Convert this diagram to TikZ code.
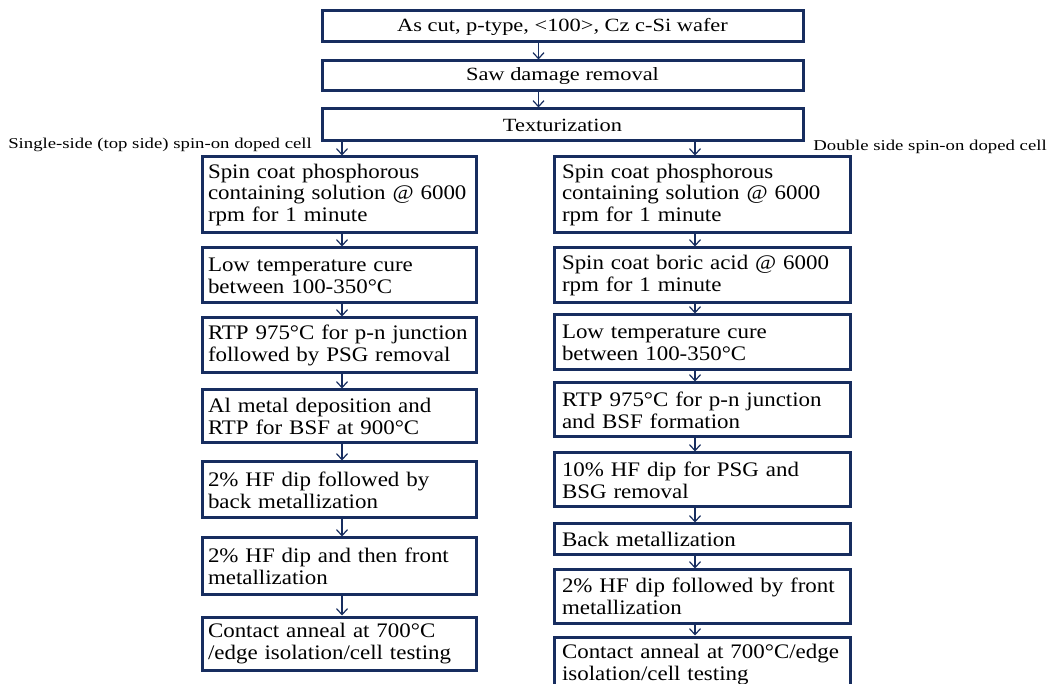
\documentclass[tikz,border=0pt]{standalone}
\usepackage{fontspec}
\setmainfont{Liberation Serif}
\newfontfamily\stepfamily[FakeStretch=1.11]{Liberation Serif}
\newfontfamily\topfamily[FakeStretch=1.2]{Liberation Serif}
\newfontfamily\lblfamily[FakeStretch=1.25]{Liberation Serif}
\usetikzlibrary{arrows.meta, positioning}
\definecolor{boxblue}{RGB}{23, 45, 95}
\newdimen\px \px=0.75pt

\begin{document}
\hyphenpenalty=10000
\exhyphenpenalty=10000
\begin{tikzpicture}[x=0.75pt, y=-0.75pt,
  topbox/.style={draw=boxblue, line width=3\px, minimum width=481\px, inner sep=0pt,
                 font=\topfamily\fontsize{14pt}{16pt}\selectfont},
  lbox/.style={draw=boxblue, line width=3\px, inner xsep=6\px, inner ysep=0pt,
               text width=262\px, align=left,
               font=\stepfamily\fontsize{15.5pt}{16.4pt}\selectfont},
  rbox/.style={lbox, inner xsep=8\px, text width=280\px},
  lbl/.style={inner sep=0pt, font=\lblfamily\fontsize{11.25pt}{13pt}\selectfont},
  arr/.style={draw=boxblue, line width=0.9pt, -{Straight Barb[length=4.5pt, width=8.25pt]}},
]
\useasboundingbox (0,0) rectangle (1051,684);

% Common steps
\node[topbox, minimum height=31\px] (wafer) at (562.5, 26.5) {As cut, p-type, <100>, Cz c-Si wafer};
\node[topbox, minimum height=30\px] (saw) at (562.5, 76) {Saw damage removal};
\node[topbox, minimum height=32\px] (tex) at (562.5, 125) {Texturization};

\draw[arr] ([xshift=-18pt]wafer.south) -- ([xshift=-18pt]saw.north);
\draw[arr] ([xshift=-18pt]saw.south) -- ([xshift=-18pt]tex.north);

% Branch labels
\node[lbl, anchor=west] (single) at (8, 145) {Single-side (top side) spin-on doped cell};
\node[lbl, anchor=east] (double) at (1047, 147) {Double side spin-on doped cell};

% Single-side column
\node[lbox, minimum height=76\px] (l1) at (339, 195) {Spin coat phosphorous\\containing solution @ 6000\\rpm for 1 minute};
\node[lbox, minimum height=55\px] (l2) at (339, 275.5) {Low temperature cure\\between 100-350°C};
\node[lbox, minimum height=55\px] (l3) at (339, 345.5) {RTP 975°C for p-n junction\\followed by PSG removal};
\node[lbox, minimum height=53\px] (l4) at (339, 416.5) {Al metal deposition and\\RTP for BSF at 900°C};
\node[lbox, minimum height=56\px] (l5) at (339, 490) {2\% HF dip followed by\\back metallization};
\node[lbox, minimum height=57\px] (l6) at (339, 566.5) {2\% HF dip and then front\\metallization};
\node[lbox, minimum height=53\px] (l7) at (339, 643.5) {Contact anneal at 700°C\\/edge isolation/cell testing};

\draw[arr] ([xshift=2.25pt]tex.south -| l1.north) -- ([xshift=2.25pt]l1.north);
\draw[arr] ([xshift=2.25pt]l1.south) -- ([xshift=2.25pt]l2.north);
\draw[arr] ([xshift=2.25pt]l2.south) -- ([xshift=2.25pt]l3.north);
\draw[arr] ([xshift=2.25pt]l3.south) -- ([xshift=2.25pt]l4.north);
\draw[arr] ([xshift=2.25pt]l4.south) -- ([xshift=2.25pt]l5.north);
\draw[arr] ([xshift=2.25pt]l5.south) -- ([xshift=2.25pt]l6.north);
\draw[arr] ([xshift=2.25pt]l6.south) -- ([xshift=2.25pt]l7.north);

% Double-side column
\node[rbox, minimum height=76\px] (r1) at (702, 195) {Spin coat phosphorous\\containing solution @ 6000\\rpm for 1 minute};
\node[rbox, minimum height=55\px] (r2) at (702, 275.5) {Spin coat boric acid @ 6000\\rpm for 1 minute};
\node[rbox, minimum height=55\px] (r3) at (702, 342.5) {Low temperature cure\\between 100-350°C};
\node[rbox, minimum height=54\px] (r4) at (702, 410) {RTP 975°C for p-n junction\\and BSF formation};
\node[rbox, minimum height=54\px] (r5) at (702, 480) {10\% HF dip for PSG and\\BSG removal};
\node[rbox, minimum height=31\px] (r6) at (702, 539.5) {Back metallization};
\node[rbox, minimum height=53\px] (r7) at (702, 596.5) {2\% HF dip followed by front\\metallization};
\node[rbox, minimum height=55\px] (r8) at (702, 664.5) {Contact anneal at 700°C/edge\\isolation/cell testing};

\draw[arr] ([xshift=-5.25pt]tex.south -| r1.north) -- ([xshift=-5.25pt]r1.north);
\draw[arr] ([xshift=-5.25pt]r1.south) -- ([xshift=-5.25pt]r2.north);
\draw[arr] ([xshift=-5.25pt]r2.south) -- ([xshift=-5.25pt]r3.north);
\draw[arr] ([xshift=-5.25pt]r3.south) -- ([xshift=-5.25pt]r4.north);
\draw[arr] ([xshift=-5.25pt]r4.south) -- ([xshift=-5.25pt]r5.north);
\draw[arr] ([xshift=-5.25pt]r5.south) -- ([xshift=-5.25pt]r6.north);
\draw[arr] ([xshift=-5.25pt]r6.south) -- ([xshift=-5.25pt]r7.north);
\draw[arr] ([xshift=-5.25pt]r7.south) -- ([xshift=-5.25pt]r8.north);
\end{tikzpicture}
\end{document}
